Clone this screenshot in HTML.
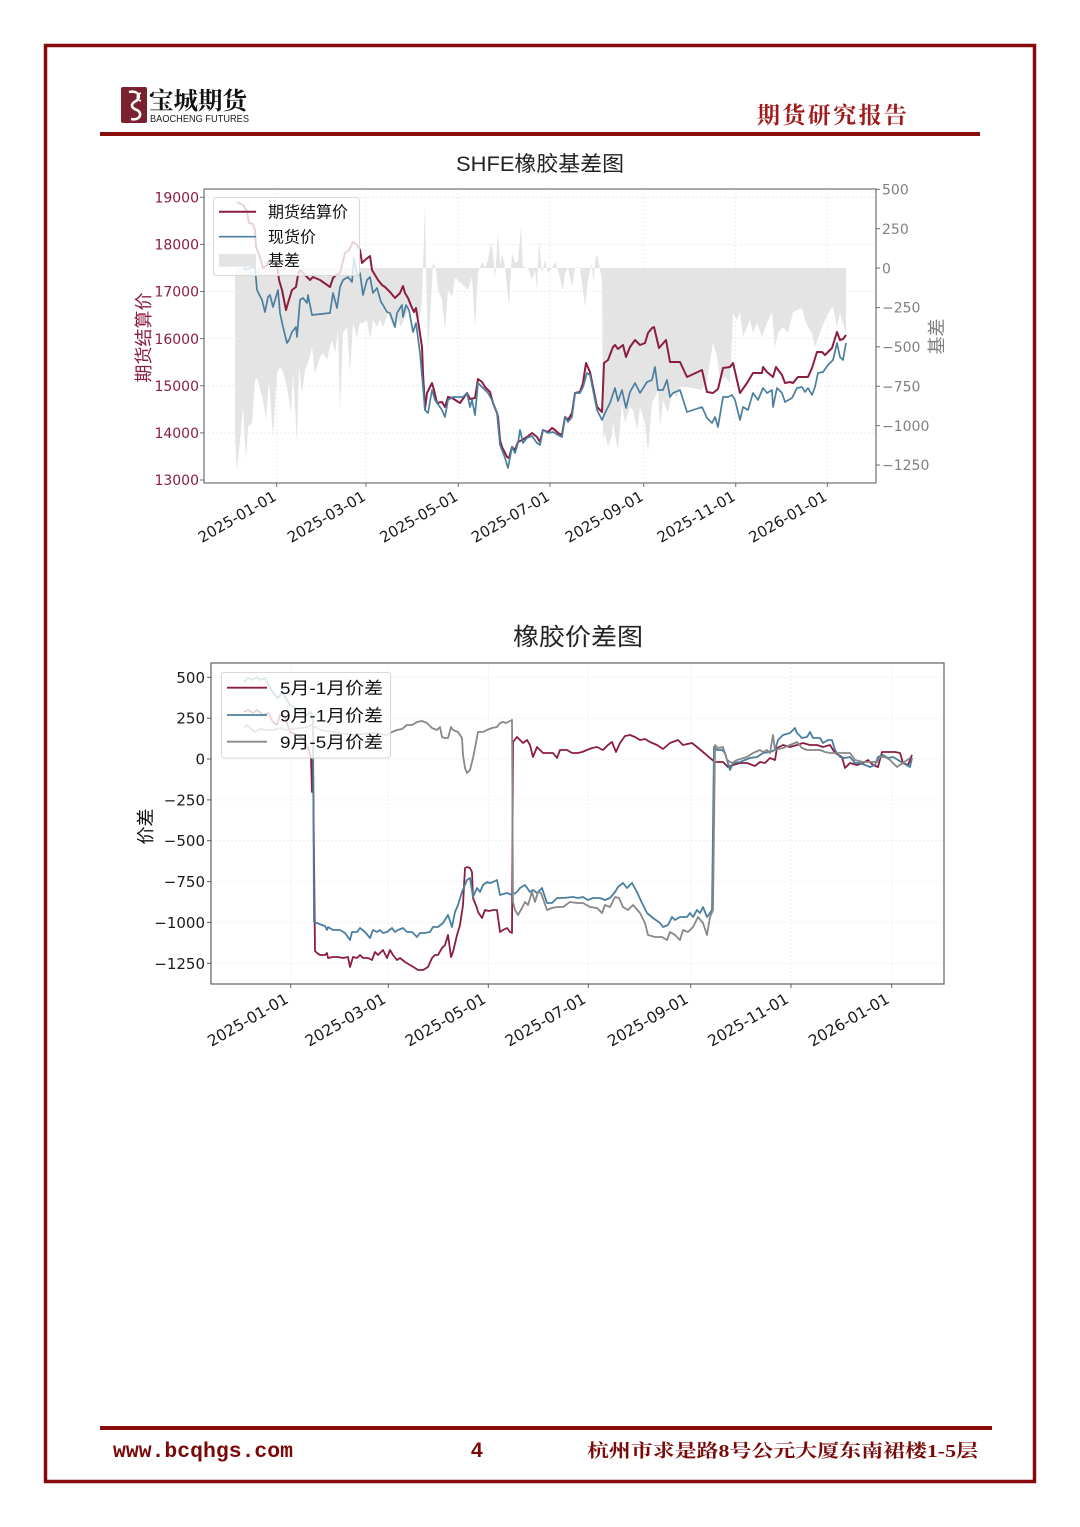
<!DOCTYPE html>
<html><head><meta charset="utf-8"><style>
html,body{margin:0;padding:0;background:#fff;}
svg{display:block;}
.tk{font-family:"DejaVu Sans","Liberation Sans",sans-serif;}
.cj{font-family:"Liberation Sans","Noto Sans CJK SC",sans-serif;}
</style></head><body>
<svg width="1080" height="1527" viewBox="0 0 1080 1527" xmlns="http://www.w3.org/2000/svg">
<rect x="0" y="0" width="1080" height="1527" fill="#fff"/>
<rect x="45.5" y="45.5" width="989" height="1436" fill="none" stroke="#860b0b" stroke-width="3.5"/>
<g>
<rect x="121" y="87" width="26" height="36" fill="#7a2030" rx="2"/>
<path d="M129 92 C138 90 142 97 136 101 C130 104 131 108 137 110 C143 113 140 121 131 119" fill="none" stroke="#fff" stroke-width="2.6"/>
<path d="M141 93 C135 95 137 100 141 101" fill="none" stroke="#fff" stroke-width="1.5"/>
<text x="149" y="109" font-family="Noto Serif CJK SC, serif" font-weight="700" font-size="24" fill="#111" textLength="98" lengthAdjust="spacingAndGlyphs">宝城期货</text>
<text x="150" y="122" font-family="Liberation Sans, sans-serif" font-size="10" fill="#222" textLength="99" lengthAdjust="spacingAndGlyphs">BAOCHENG FUTURES</text>
<text x="757" y="123" font-family="Noto Serif CJK SC, serif" font-weight="700" font-size="23" fill="#a01a1a" textLength="150" lengthAdjust="spacing">期货研究报告</text>
<rect x="100" y="132" width="880" height="4" fill="#8a0e0e"/>
</g>

<!-- Chart 1 -->
<text x="456" y="171" class="cj" font-size="21" fill="#222" textLength="168" lengthAdjust="spacingAndGlyphs">SHFE橡胶基差图</text>
<g stroke="#e8e8e8" stroke-width="0.8" stroke-dasharray="2,2">
<line x1="204" y1="197.3" x2="876" y2="197.3"/><line x1="204" y1="244.4" x2="876" y2="244.4"/><line x1="204" y1="291.5" x2="876" y2="291.5"/><line x1="204" y1="338.6" x2="876" y2="338.6"/><line x1="204" y1="385.8" x2="876" y2="385.8"/><line x1="204" y1="432.9" x2="876" y2="432.9"/>
<line x1="276.7" y1="189" x2="276.7" y2="483"/><line x1="366" y1="189" x2="366" y2="483"/><line x1="458.3" y1="189" x2="458.3" y2="483"/><line x1="550" y1="189" x2="550" y2="483"/><line x1="643.7" y1="189" x2="643.7" y2="483"/><line x1="735.7" y1="189" x2="735.7" y2="483"/><line x1="827.3" y1="189" x2="827.3" y2="483"/>
</g>
<polygon fill="#e4e4e4" points="235,268 235,440 237,470 240,440 243,407 246,460 248,427 252,423 255,380 257,378 261,393 263,400 266,420 269,380 273,437 277,373 280,367 283,372 287,387 291,413 293,373 297,443 299,367 302,393 305,370 308,363 312,347 315,373 320,357 323,353 327,360 330,347 332,340 335,353 338,330 340,413 343,333 347,327 350,373 353,323 357,337 360,323 363,323 367,320 370,340 373,320 377,327 380,320 383,327 388,313 393,327 397,317 401,327 405,317 410,307 413,308 417,320 420,318 422,300 423,268 425,203 426,268 428,353 432,283 433,262 436,270 438,290 442,300 445,330 448,290 452,297 455,278 458,280 465,287 468,290 472,277 475,327 478,273 482,262 485,267 488,260 491,243 493,253 495,280 498,232 500,267 502,253 505,267 509,307 512,253 515,263 518,262 521,227 523,267 528,268 532,280 535,270 537,290 539,240 542,273 545,260 548,273 552,268 555,262 558,270 563,290 565,273 568,268 572,287 575,268 580,267 585,307 588,280 592,263 593,283 596,255 598,258 602,280 603,440 605,433 608,447 612,435 613,423 616,440 618,450 622,403 625,423 630,407 633,410 637,430 640,407 645,423 648,453 652,403 655,397 658,390 660,427 663,400 668,413 672,393 677,397 680,387 687,387 693,388 702,390 707,380 710,362 713,343 717,357 720,380 725,377 730,383 733,313 737,320 740,312 743,337 747,327 750,320 753,333 757,323 762,337 767,323 772,312 775,347 778,333 783,327 788,333 793,312 798,310 802,308 805,320 808,327 812,333 815,347 820,333 825,320 830,310 833,307 837,327 840,313 843,323 846,333 846,268"/>
<polyline fill="none" stroke="#8b1e3f" stroke-width="2" stroke-linejoin="round" points="237,202 243,205 247,211 249,223 253,224 255,230 256,247 260,257 263,268 267,265 270,260 277,263 279,280 282,290 286,310 288,303 292,290 296,287 298,275 300,270 304,274 310,280 313,277 320,280 330,287 333,278 336,275 340,273 345,253 349,250 353,242 357,245 360,250 362,263 365,260 370,256 372,270 375,275 378,280 382,285 385,287 390,292 395,298 400,293 403,286 405,293 408,298 412,308 414,312 416,308 419,327 422,347 423,373 425,409 427,393 432,383 434,390 437,403 442,402 445,407 448,397 452,398 460,403 467,393 470,399 475,398 478,379 482,382 485,387 490,392 493,403 497,413 498,417 500,440 502,447 505,453 507,457 509,458 512,447 515,450 518,442 522,440 527,437 532,433 537,437 540,442 543,430 548,432 552,428 555,430 558,433 562,435 565,417 568,420 572,413 575,393 580,392 583,383 586,363 590,372 593,387 597,407 602,412 604,363 608,360 613,347 615,345 618,349 623,345 626,357 630,347 635,340 640,345 645,343 648,333 652,328 654,327 659,348 666,340 670,362 680,362 687,377 702,370 707,392 713,393 718,389 723,368 730,367 733,363 740,393 747,383 753,373 762,373 763,367 767,372 773,377 776,367 782,375 785,383 790,382 793,383 798,377 808,377 812,368 817,352 822,352 825,355 832,348 837,332 840,340 843,339 846,335"/>
<polyline fill="none" stroke="#4a7fa0" stroke-width="1.7" stroke-linejoin="round" points="235,262 240,260 243,258 245,270 250,268 255,267 257,290 262,300 265,312 268,297 270,295 273,307 278,290 280,313 283,327 287,343 289,340 292,332 296,327 297,337 300,300 303,298 307,303 308,295 312,315 330,313 333,293 337,308 340,287 343,280 348,277 352,282 354,258 357,275 360,273 363,295 367,280 370,277 373,293 377,288 381,302 383,305 387,312 390,313 395,327 397,313 402,305 403,317 406,305 409,310 413,332 416,323 420,353 423,387 425,410 428,413 432,390 435,400 442,410 445,417 448,400 453,397 463,397 467,393 470,407 472,400 475,415 478,383 483,388 488,393 492,400 497,413 500,445 505,458 508,468 512,447 515,453 518,443 520,430 523,443 527,438 532,436 537,443 540,445 543,430 548,433 553,432 558,435 562,437 565,417 568,422 572,417 575,393 580,393 583,387 587,373 590,375 593,390 597,410 602,420 605,413 610,403 615,388 618,401 622,390 626,408 630,392 635,383 640,393 647,382 652,380 655,367 658,390 663,390 667,380 670,397 673,393 680,390 687,412 702,407 707,418 712,423 715,417 718,427 723,397 728,397 732,395 735,400 740,420 743,407 748,410 753,393 758,400 763,388 767,393 772,390 773,407 777,388 782,393 785,402 792,398 797,388 802,387 805,392 808,388 812,395 815,387 818,373 823,372 828,365 833,360 837,343 840,357 843,360 846,343"/>
<rect x="204" y="189" width="672" height="294" fill="none" stroke="#707070" stroke-width="1.2"/>
<!-- legend 1 -->
<rect x="213.5" y="197.5" width="146" height="78" rx="3" fill="#fff" fill-opacity="0.8" stroke="#d8d8d8" stroke-width="1"/>
<line x1="219" y1="211.7" x2="256" y2="211.7" stroke="#8b1e3f" stroke-width="2"/>
<line x1="219" y1="236.7" x2="256" y2="236.7" stroke="#4a7fa0" stroke-width="1.7"/>
<rect x="219" y="254" width="37" height="12.7" fill="#e4e4e4"/>
<g class="cj" font-size="16" fill="#111">
<text x="268" y="217.5">期货结算价</text>
<text x="268" y="242.5">现货价</text>
<text x="268" y="266">基差</text>
</g>
<!-- ticks chart1 -->
<g stroke="#707070" stroke-width="1">
<line x1="200" y1="197.3" x2="204" y2="197.3"/><line x1="200" y1="244.4" x2="204" y2="244.4"/><line x1="200" y1="291.5" x2="204" y2="291.5"/><line x1="200" y1="338.6" x2="204" y2="338.6"/><line x1="200" y1="385.8" x2="204" y2="385.8"/><line x1="200" y1="432.9" x2="204" y2="432.9"/><line x1="200" y1="480" x2="204" y2="480"/>
<line x1="876" y1="189.3" x2="880" y2="189.3"/><line x1="876" y1="228.7" x2="880" y2="228.7"/><line x1="876" y1="268.1" x2="880" y2="268.1"/><line x1="876" y1="307.5" x2="880" y2="307.5"/><line x1="876" y1="346.8" x2="880" y2="346.8"/><line x1="876" y1="386.2" x2="880" y2="386.2"/><line x1="876" y1="425.6" x2="880" y2="425.6"/><line x1="876" y1="465" x2="880" y2="465"/>
<line x1="276.7" y1="483" x2="276.7" y2="487"/><line x1="366" y1="483" x2="366" y2="487"/><line x1="458.3" y1="483" x2="458.3" y2="487"/><line x1="550" y1="483" x2="550" y2="487"/><line x1="643.7" y1="483" x2="643.7" y2="487"/><line x1="735.7" y1="483" x2="735.7" y2="487"/><line x1="827.3" y1="483" x2="827.3" y2="487"/>
</g>
<g class="tk" font-size="14" fill="#8b1e3f" text-anchor="end">
<text x="199" y="202.5">19000</text><text x="199" y="249.6">18000</text><text x="199" y="296.7">17000</text><text x="199" y="343.8">16000</text><text x="199" y="391">15000</text><text x="199" y="438.1">14000</text><text x="199" y="485.2">13000</text>
</g>
<g class="tk" font-size="14" fill="#808080">
<text x="882" y="194.5">500</text><text x="882" y="233.9">250</text><text x="882" y="273.3">0</text><text x="882" y="312.7">−250</text><text x="882" y="352">−500</text><text x="882" y="391.4">−750</text><text x="882" y="430.8">−1000</text><text x="882" y="470.2">−1250</text>
</g>
<g class="tk" font-size="15" fill="#1a1a1a" text-anchor="end">
<text transform="translate(277.5,499.5) rotate(-30)">2025-01-01</text>
<text transform="translate(366.8,499.5) rotate(-30)">2025-03-01</text>
<text transform="translate(459.1,499.5) rotate(-30)">2025-05-01</text>
<text transform="translate(550.8,499.5) rotate(-30)">2025-07-01</text>
<text transform="translate(644.5,499.5) rotate(-30)">2025-09-01</text>
<text transform="translate(736.5,499.5) rotate(-30)">2025-11-01</text>
<text transform="translate(828.1,499.5) rotate(-30)">2026-01-01</text>
</g>
<text transform="translate(150,337.5) rotate(-90)" class="cj" font-size="18" fill="#8b1e3f" text-anchor="middle">期货结算价</text>
<text transform="translate(943,336.5) rotate(-90)" class="cj" font-size="18" fill="#808080" text-anchor="middle">基差</text>

<!-- Chart 2 -->
<text x="513" y="645" class="cj" font-size="24" fill="#222" textLength="130" lengthAdjust="spacingAndGlyphs">橡胶价差图</text>
<g stroke="#ececec" stroke-width="0.8" stroke-dasharray="2,2">
<line x1="211" y1="677.3" x2="944" y2="677.3"/><line x1="211" y1="718.2" x2="944" y2="718.2"/><line x1="211" y1="759" x2="944" y2="759"/><line x1="211" y1="799.9" x2="944" y2="799.9"/><line x1="211" y1="840.7" x2="944" y2="840.7"/><line x1="211" y1="881.6" x2="944" y2="881.6"/><line x1="211" y1="922.4" x2="944" y2="922.4"/><line x1="211" y1="963.3" x2="944" y2="963.3"/>
<line x1="290.7" y1="663" x2="290.7" y2="984"/><line x1="388.3" y1="663" x2="388.3" y2="984"/><line x1="488.3" y1="663" x2="488.3" y2="984"/><line x1="588.3" y1="663" x2="588.3" y2="984"/><line x1="690.7" y1="663" x2="690.7" y2="984"/><line x1="791" y1="663" x2="791" y2="984"/><line x1="891.7" y1="663" x2="891.7" y2="984"/>
</g>
<polyline fill="none" stroke="#8b1e3f" stroke-width="1.8" stroke-linejoin="round" points="244,712 248,710 253,713 257,710 263,715 268,713 273,722 277,725 280,715 285,717 290,732 297,735 303,738 308,748 311,758 312,792 313,760 315,951 317,953 320,955 325,955 327,953 328,958 333,957 338,957 343,958 348,957 350,967 353,957 357,958 360,955 363,958 368,958 372,960 375,952 378,955 383,950 387,958 390,950 393,955 397,960 400,958 405,962 410,965 415,968 418,970 423,970 428,967 432,958 435,955 438,955 442,948 445,945 448,935 451,957 453,952 457,935 460,925 463,905 465,868 467,867 470,868 472,872 473,898 477,908 478,912 482,918 485,910 489,911 493,910 497,910 500,932 503,930 507,928 510,932 512,933 513,742 517,737 520,740 523,743 527,740 530,745 533,757 537,747 543,753 553,753 557,758 560,750 567,750 572,753 578,753 582,752 587,750 592,748 597,747 603,750 608,745 612,742 616,752 620,743 625,736 630,735 635,737 640,740 645,739 650,742 657,745 663,749 670,743 678,740 683,745 692,743 697,747 703,752 710,758 715,762 723,762 728,767 733,765 740,763 747,763 755,766 760,762 765,763 770,758 775,760 777,748 783,745 790,747 797,745 803,743 810,745 817,745 823,747 830,745 835,753 842,757 845,768 850,763 857,765 863,763 868,760 873,765 878,767 882,752 890,752 895,752 900,753 903,763 908,765 912,755"/>
<polyline fill="none" stroke="#4a7fa0" stroke-width="1.8" stroke-linejoin="round" points="244,682 248,678 252,680 257,677 260,680 265,678 270,688 275,695 278,698 282,693 285,697 290,705 295,708 300,710 307,715 311,712 313,722 314,922 317,923 322,925 325,926 327,930 328,927 333,930 340,930 345,933 350,940 352,932 357,932 360,928 365,932 370,938 373,930 377,932 380,930 383,933 387,932 392,928 395,932 398,930 403,928 407,932 412,932 417,937 420,933 425,933 430,932 433,927 438,927 443,923 448,915 452,927 455,912 458,905 462,892 467,880 470,878 473,897 477,888 480,892 483,885 487,882 490,883 493,882 497,880 500,895 507,893 512,895 517,892 520,888 525,885 530,892 533,890 537,893 542,888 547,903 552,903 557,898 563,898 573,897 578,898 583,897 588,900 593,898 600,898 605,900 610,898 615,892 618,887 623,883 627,888 632,883 637,892 642,903 647,913 653,918 660,923 663,927 668,925 672,917 675,920 680,917 687,917 690,913 693,917 697,910 700,913 703,907 707,917 712,910 714,747 717,750 722,750 725,753 727,760 730,770 733,763 740,762 750,758 757,757 763,753 770,752 775,750 778,740 783,735 790,733 795,728 797,733 802,738 807,737 810,732 813,738 820,738 823,743 828,740 832,740 835,750 840,757 845,758 850,757 855,763 860,763 865,765 870,767 875,765 878,757 883,755 888,758 893,757 898,760 903,763 910,767 912,758"/>
<polyline fill="none" stroke="#888888" stroke-width="1.8" stroke-linejoin="round" points="244,728 247,725 252,730 255,732 260,729 267,730 273,730 280,728 287,730 293,729 300,728 307,727 312,725 320,730 333,732 353,735 373,733 387,735 392,732 397,730 402,729 407,725 412,725 417,722 422,721 427,723 432,728 437,730 440,727 442,737 445,738 448,738 451,727 453,730 458,732 462,738 463,755 465,768 467,773 470,770 473,758 475,748 478,732 483,732 487,730 492,728 497,727 500,723 503,722 506,723 508,722 512,720 513,902 515,910 518,915 522,908 525,902 528,905 532,892 535,902 538,892 541,893 547,910 552,908 557,907 563,907 570,902 577,903 583,903 590,907 597,908 602,913 605,905 610,907 615,897 619,898 623,907 628,910 633,905 640,913 645,923 648,935 655,937 662,937 667,940 670,932 675,935 680,940 683,930 688,932 693,927 698,917 703,923 707,935 710,917 713,910 715,745 718,748 723,747 727,760 732,763 737,760 747,757 753,753 760,750 763,752 767,750 770,753 773,735 775,750 783,748 790,745 797,742 802,748 807,750 813,750 820,750 825,752 830,753 837,753 843,753 850,753 855,760 863,762 870,762 877,762 880,757 885,757 890,760 897,767 903,763 910,758"/>
<rect x="211" y="663" width="733" height="321" fill="none" stroke="#606060" stroke-width="1.2"/>
<!-- legend 2 -->
<rect x="221.5" y="672.5" width="169" height="85.5" rx="3" fill="#fff" fill-opacity="0.8" stroke="#d8d8d8" stroke-width="1"/>
<line x1="227" y1="687.7" x2="267" y2="687.7" stroke="#8b1e3f" stroke-width="1.8"/>
<line x1="227" y1="715" x2="267" y2="715" stroke="#4a7fa0" stroke-width="1.8"/>
<line x1="227" y1="741.7" x2="267" y2="741.7" stroke="#888888" stroke-width="1.8"/>
<g class="cj" font-size="17" fill="#111">
<text x="280" y="694" textLength="103" lengthAdjust="spacingAndGlyphs">5月-1月价差</text>
<text x="280" y="721.3" textLength="103" lengthAdjust="spacingAndGlyphs">9月-1月价差</text>
<text x="280" y="748" textLength="103" lengthAdjust="spacingAndGlyphs">9月-5月价差</text>
</g>
<g stroke="#606060" stroke-width="1">
<line x1="207" y1="677.3" x2="211" y2="677.3"/><line x1="207" y1="718.2" x2="211" y2="718.2"/><line x1="207" y1="759" x2="211" y2="759"/><line x1="207" y1="799.9" x2="211" y2="799.9"/><line x1="207" y1="840.7" x2="211" y2="840.7"/><line x1="207" y1="881.6" x2="211" y2="881.6"/><line x1="207" y1="922.4" x2="211" y2="922.4"/><line x1="207" y1="963.3" x2="211" y2="963.3"/>
<line x1="290.7" y1="984" x2="290.7" y2="988"/><line x1="388.3" y1="984" x2="388.3" y2="988"/><line x1="488.3" y1="984" x2="488.3" y2="988"/><line x1="588.3" y1="984" x2="588.3" y2="988"/><line x1="690.7" y1="984" x2="690.7" y2="988"/><line x1="791" y1="984" x2="791" y2="988"/><line x1="891.7" y1="984" x2="891.7" y2="988"/>
</g>
<g class="tk" font-size="15" fill="#1a1a1a" text-anchor="end">
<text x="205" y="682.8">500</text><text x="205" y="723.7">250</text><text x="205" y="764.5">0</text><text x="205" y="805.4">−250</text><text x="205" y="846.2">−500</text><text x="205" y="887.1">−750</text><text x="205" y="927.9">−1000</text><text x="205" y="968.8">−1250</text>
</g>
<g class="tk" font-size="15.5" fill="#1a1a1a" text-anchor="end">
<text transform="translate(289.5,1002) rotate(-30)">2025-01-01</text>
<text transform="translate(387.1,1002) rotate(-30)">2025-03-01</text>
<text transform="translate(487.1,1002) rotate(-30)">2025-05-01</text>
<text transform="translate(587.1,1002) rotate(-30)">2025-07-01</text>
<text transform="translate(689.5,1002) rotate(-30)">2025-09-01</text>
<text transform="translate(789.8,1002) rotate(-30)">2025-11-01</text>
<text transform="translate(890.5,1002) rotate(-30)">2026-01-01</text>
</g>
<text transform="translate(152,826.5) rotate(-90)" class="cj" font-size="18" fill="#111" text-anchor="middle">价差</text>

<!-- footer -->
<rect x="100" y="1426" width="892" height="4" fill="#8a0e0e"/>
<text x="113" y="1457" font-family="Liberation Mono, monospace" font-weight="700" font-size="21" fill="#7a0a0a" textLength="180" lengthAdjust="spacingAndGlyphs">www.bcqhgs.com</text>
<text x="471" y="1457" font-family="Liberation Sans, sans-serif" font-weight="700" font-size="21" fill="#7a0a0a">4</text>
<text x="587" y="1457" font-family="Liberation Serif, Noto Serif CJK SC, serif" font-weight="700" font-size="18" fill="#7a0a0a" textLength="391" lengthAdjust="spacingAndGlyphs">杭州市求是路8号公元大厦东南裙楼1-5层</text>
</svg>
</body></html>
